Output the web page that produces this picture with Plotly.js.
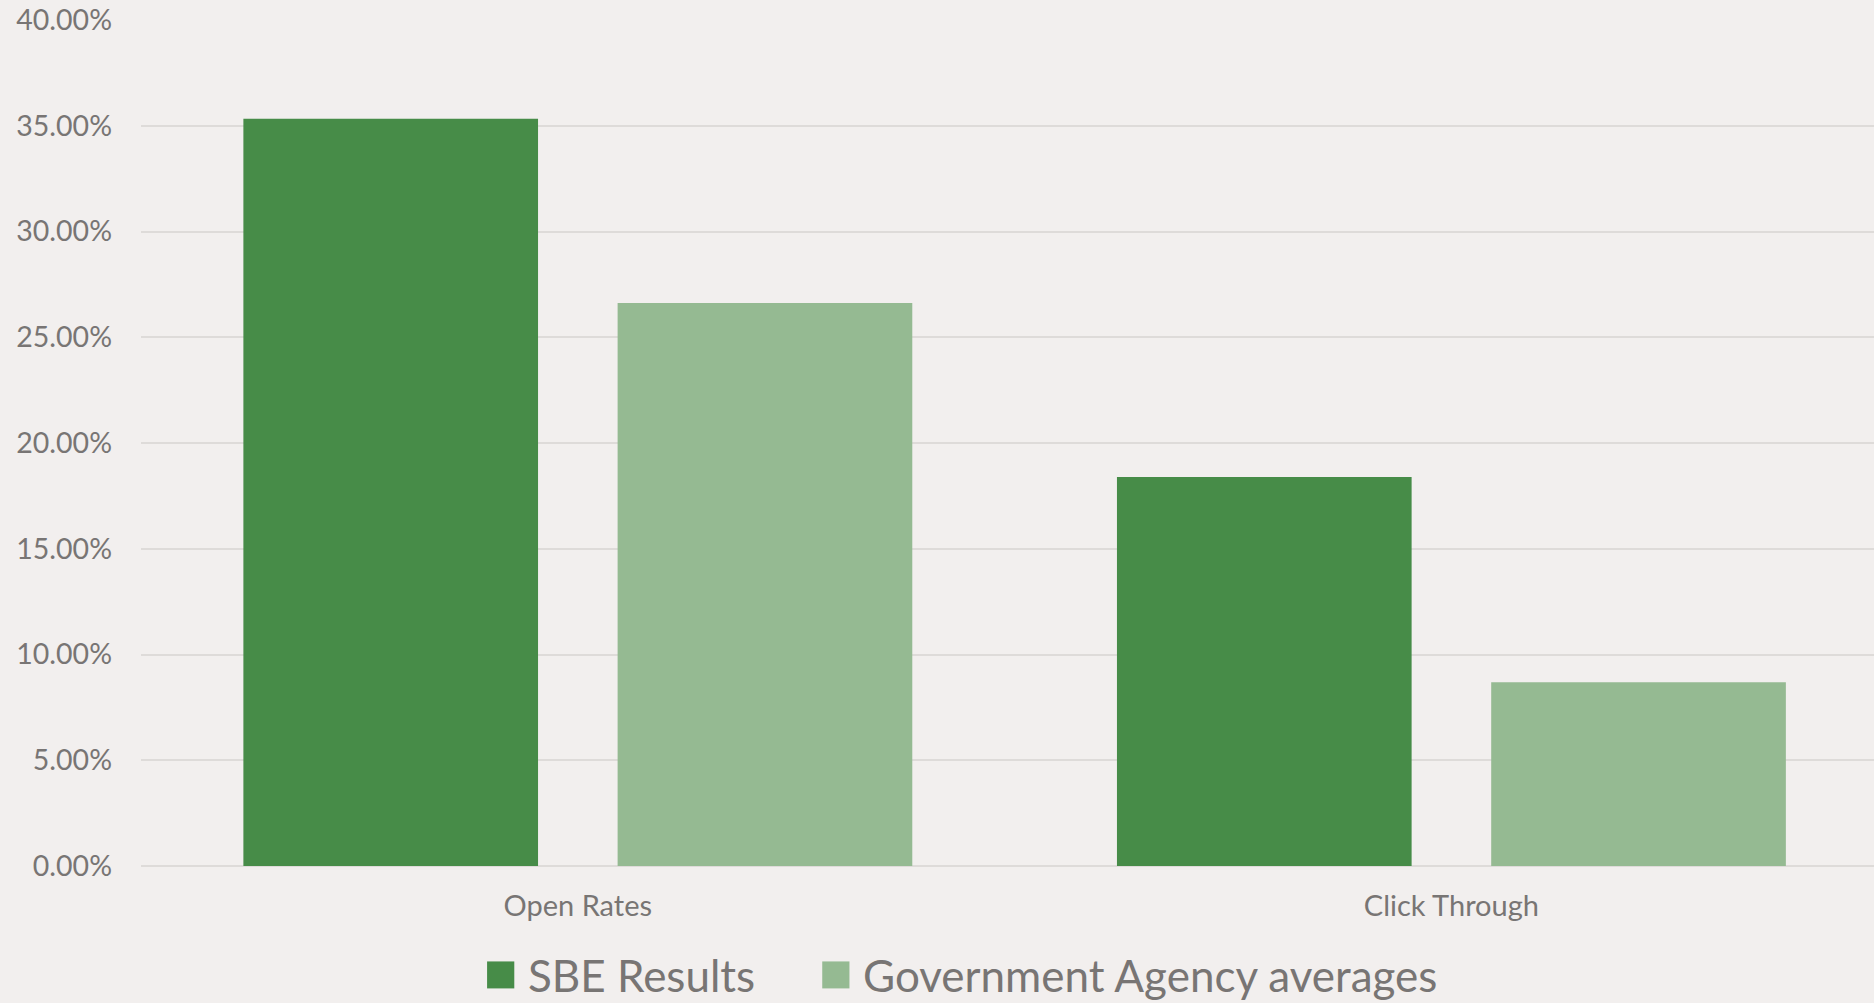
<!DOCTYPE html>
<html>
<head>
<meta charset="utf-8">
<script src="https://cdn.plot.ly/plotly-3.0.1.min.js"></script>
<style>
  html, body { margin: 0; padding: 0; background: #F2EFEE; }
  #chart { width: 1874px; height: 1003px; }
</style>
</head>
<body>
<div id="chart"></div>
<script>
// ---- data ----
const categories = ["Open Rates", "Click Through"];
const seriesNames = ["SBE Results", "Government Agency averages"];
const sbeResults = [0.3533, 0.1839];
const govAverages = [0.2662, 0.0869];
const yTickValues = [0, 0.05, 0.10, 0.15, 0.20, 0.25, 0.30, 0.35, 0.40];

// ---- style ----
const colors = ["#478C48", "#95BA92"];
const textColor = "#787574";
const gridColor = "#DEDBD9";
const bg = "#F2EFEE";
const font = "Lato, 'Open Sans', sans-serif";

const barWidth = 0.3373;
const traces = [
  { type: "bar", x: categories, y: sbeResults, name: seriesNames[0],
    marker: { color: colors[0] }, width: barWidth, offset: -0.3828,
    hoverinfo: "x+y+name" },
  { type: "bar", x: categories, y: govAverages, name: seriesNames[1],
    marker: { color: colors[1] }, width: barWidth, offset: 0.0456,
    hoverinfo: "x+y+name" }
];

// legend drawn as shapes + annotations (large square keys)
const lift = 0.0055;
const legendY0 = -0.1183 + lift, legendY1 = -0.1502 + lift, legendTextY = -0.134 + lift;
const keyX = [[0.1997, 0.2154], [0.3931, 0.4088]];
const textX = [0.2227, 0.4162];
const shapes = keyX.map((k, i) => ({
  type: "rect", xref: "paper", yref: "paper",
  x0: k[0], x1: k[1], y0: legendY0, y1: legendY1,
  fillcolor: colors[i], line: { width: 0 }
}));
const annotations = seriesNames.map((n, i) => ({
  xref: "paper", yref: "paper", x: textX[i], y: legendTextY,
  xanchor: "left", yanchor: "middle", showarrow: false, text: n,
  borderpad: 0,
  font: { family: font, size: 44, color: textColor }
}));

const layout = {
  width: 1874, height: 1003,
  paper_bgcolor: bg, plot_bgcolor: bg,
  margin: { l: 140.6, r: 0, t: 20.3, b: 137.3, pad: 0 },
  barmode: "group",
  showlegend: false,
  xaxis: {
    type: "category",
    range: [-0.5, 1.4838],
    showgrid: false, zeroline: false, showline: false,
    ticks: "", ticklabelstandoff: 20,
    tickfont: { family: font, size: 29, color: textColor }
  },
  yaxis: {
    range: [0, 0.4],
    tickvals: yTickValues,
    tickformat: ".2%",
    showgrid: true, gridcolor: gridColor, gridwidth: 2,
    zeroline: true, zerolinecolor: gridColor, zerolinewidth: 2,
    showline: false, ticks: "", ticklabelstandoff: 28,
    tickfont: { family: font, size: 28.5, color: textColor }
  },
  shapes: shapes,
  annotations: annotations
};

Plotly.newPlot("chart", traces, layout, { displayModeBar: false, staticPlot: true });
</script>
</body>
</html>
